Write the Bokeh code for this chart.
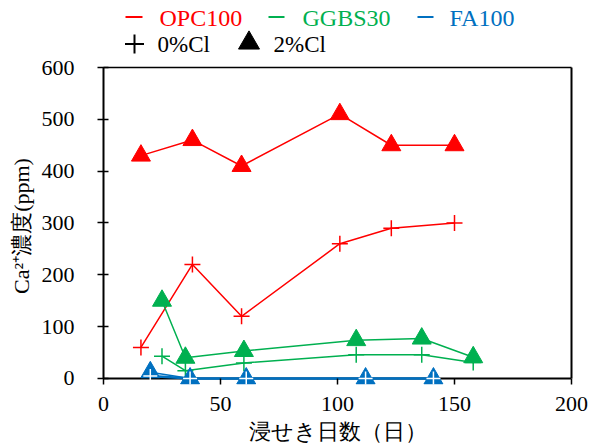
from bokeh.plotting import figure
from bokeh.models import Range1d, FixedTicker, LinearAxis, Span
from bokeh.layouts import column
from bokeh.core.properties import value
from bokeh.embed import file_html
from bokeh.resources import INLINE

# Data
opc_2_x = [16, 38, 59, 101, 123, 150]
opc_2_y = [430, 460, 410, 510, 450, 450]
opc_0_x = [16, 38, 59, 101, 123, 150]
opc_0_y = [60, 220, 120, 260, 290, 300]

ggbs_2_x = [25, 35, 60, 108, 136, 158]
ggbs_2_y = [150, 40, 53, 74, 77, 41]
ggbs_0_x = [25, 35, 60, 108, 136, 158]
ggbs_0_y = [43, 15, 30, 46, 46, 31]

fa_2_x = [20, 37, 61, 112, 141]
fa_2_y = [12, 0, 0, 0, 0]
fa_0_x = [20, 37, 61, 112, 141]
fa_0_y = [5, 0, 0, 0, 0]

x_ticks = [0, 50, 100, 150, 200]
y_ticks = [0, 100, 200, 300, 400, 500, 600]

series_names = ["OPC100", "GGBS30", "FA100"]
chloride_names = ["0%Cl", "2%Cl"]

RED = "#FF0000"
GREEN = "#00B050"
BLUE = "#0070C0"
SERIF = "Times New Roman"

W = 590
LEG_H = 56
BL, BR = 103, 19

# ---------- legend strip (x in page pixels, aligned to main frame) ----------
leg = figure(width=W, height=LEG_H, output_backend="svg", toolbar_location=None,
             x_range=Range1d(BL, W - BR), y_range=Range1d(0, LEG_H),
             min_border_left=BL, min_border_right=BR,
             min_border_top=0, min_border_bottom=0)
leg.axis.visible = False
leg.grid.visible = False
leg.outline_line_color = None

r1 = LEG_H - 17.5
r2 = LEG_H - 43.5
leg.segment(x0=[125, 268, 417], y0=[r1 + 1] * 3, x1=[142, 284, 433], y1=[r1 + 1] * 3,
            line_color=[RED, GREEN, BLUE], line_width=2)
leg.text(x=[159, 302, 449], y=[r1] * 3, text=series_names,
         text_color=[RED, GREEN, BLUE], text_font=value(SERIF),
         text_font_size="24px", text_baseline="middle", text_align="left")
leg.scatter(x=[134], y=[r2], marker="cross", size=19, line_color="black", line_width=2)
leg.scatter(x=[248.5], y=[r2 + 1], marker="triangle", size=21, color="black")
leg.text(x=[157, 273], y=[r2] * 2, text=chloride_names, text_color="black",
         text_font=value(SERIF), text_font_size="23px",
         text_baseline="middle", text_align="left")

# ---------- main chart ----------
p = figure(width=W, height=448 - LEG_H, output_backend="svg", toolbar_location=None,
           x_range=Range1d(0, 200), y_range=Range1d(-11.6, 600),
           min_border_left=BL, min_border_right=BR, min_border_top=67 - LEG_H,
           min_border_bottom=64)
p.grid.visible = False
p.outline_line_color = None
p.background_fill_color = "white"

xa = p.xaxis[0]
ya = p.yaxis[0]
ya.bounds = (0, 600)

for ax in (xa, ya):
    ax.minor_tick_line_color = None
    ax.major_label_text_font = SERIF
    ax.major_label_text_font_size = "22px"
    ax.major_label_text_color = "black"
    ax.axis_label_text_font = SERIF
    ax.axis_label_text_font_size = "22px"
    ax.axis_label_text_font_style = "normal"
    ax.axis_label_text_color = "black"

# x axis: ticks rise from the frame bottom up to y = 0; axis line drawn at y = 0
xa.axis_line_color = None
xa.major_tick_line_color = "black"
xa.major_tick_line_width = 1.5
xa.major_tick_in = 6
xa.major_tick_out = 0
xa.ticker = FixedTicker(ticks=x_ticks)
xa.axis_label = "浸せき日数（日）"
xa.major_label_standoff = 12
xa.axis_label_standoff = 5

ya.axis_line_width = 2
ya.major_tick_line_width = 1.5
ya.major_tick_in = 5
ya.major_tick_out = 6
ya.ticker = FixedTicker(ticks=y_ticks)
ya.axis_label = "Ca²⁺濃度(ppm)"
ya.major_label_standoff = 23
ya.axis_label_standoff = 5

p.add_layout(Span(location=0, dimension="width", line_color="black",
                  line_width=2, level="underlay"))

# frame border (top / right)
top_ax = LinearAxis(ticker=FixedTicker(ticks=[]), axis_line_width=1.5,
                    axis_line_color="black", minor_tick_line_color=None,
                    major_tick_line_color=None)
right_ax = LinearAxis(ticker=FixedTicker(ticks=[]), axis_line_width=2,
                      axis_line_color="black", minor_tick_line_color=None,
                      major_tick_line_color=None, bounds=(0, 600))
p.add_layout(top_ax, "above")
p.add_layout(right_ax, "right")

# OPC100
p.line(opc_2_x, opc_2_y, color=RED, line_width=1.5)
p.scatter(opc_2_x, opc_2_y, marker="triangle", size=19, color=RED)
p.line(opc_0_x, opc_0_y, color=RED, line_width=1.5)
p.scatter(opc_0_x, opc_0_y, marker="cross", size=16, line_color=RED, line_width=1.5)

# GGBS30
p.line(ggbs_2_x, ggbs_2_y, color=GREEN, line_width=1.5)
p.scatter(ggbs_2_x, ggbs_2_y, marker="triangle", size=19, color=GREEN)
p.line(ggbs_0_x, ggbs_0_y, color=GREEN, line_width=1.5)
p.scatter(ggbs_0_x, ggbs_0_y, marker="cross", size=16, line_color=GREEN, line_width=1.5)

# FA100
p.line(fa_0_x, fa_0_y, color=BLUE, line_width=2.5)
p.line(fa_2_x, fa_2_y, color=BLUE, line_width=1.5)
p.scatter(fa_2_x, fa_2_y, marker="triangle", size=19, color=BLUE)
p.scatter(fa_0_x, fa_0_y, marker="cross", size=14, line_color="white", line_width=1.5)

layout = column(leg, p, spacing=0)
open("out.html", "w").write(file_html(layout, INLINE))
